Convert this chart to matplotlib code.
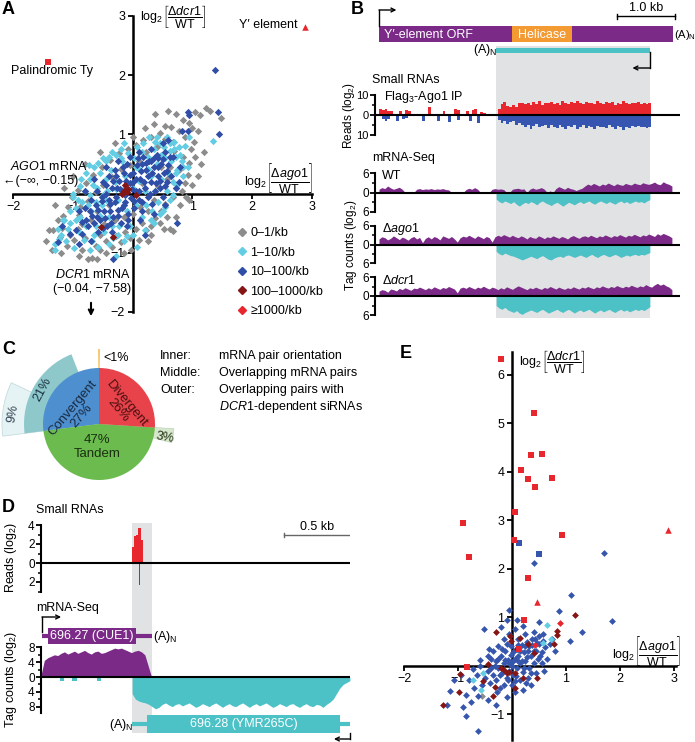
import numpy as np
import matplotlib
matplotlib.use('Agg')
import matplotlib.pyplot as plt
from matplotlib.patches import Rectangle, Wedge
from matplotlib.lines import Line2D

plt.rcParams['font.family'] = ['Liberation Sans', 'DejaVu Sans']
plt.rcParams['mathtext.fontset'] = 'custom'
plt.rcParams['mathtext.rm'] = 'Liberation Sans'
plt.rcParams['mathtext.it'] = 'Liberation Sans:italic'
plt.rcParams['mathtext.bf'] = 'Liberation Sans:bold'
plt.rcParams['font.size'] = 8.5

# colours
GRAY = '#8c8c8c'
CYAN = '#62cde3'
BLUE = '#2f4ea8'
DRED = '#861515'
RED = '#e8262d'
PURPLE = '#7b2a88'
TEAL = '#4cc1c6'
ORANGE = '#f39a32'
SHADE = '#e1e2e4'

# ---------------- data ----------------
# panel A: log2(dago1/WT), log2(ddcr1/WT) per mRNA, by siRNA density class
a_gray = [(-1.33,-0.62),(-1.22,-0.73),(-1.18,-0.58),(-1.10,-0.88),(-1.05,-0.70),(-0.98,-0.78),(-0.92,-0.60),
          (-0.85,-0.95),(-0.80,-0.75),(-0.75,-1.10),(-0.68,-1.08),(-0.62,-0.88),(-0.55,-0.70),(-0.45,-0.80),
          (-0.35,-0.90),(-0.28,-0.72),(-0.20,-0.82),(-0.12,-0.65),(-0.05,-0.75),(0.05,-0.60),(0.15,-0.50),
          (0.22,-0.62),(0.30,-0.55),(0.38,-0.42),(0.48,-0.30),(0.55,-0.18),(0.62,-0.60),(0.68,-0.05),
          (0.72,0.10),(0.82,0.05),(0.88,0.18),(1.00,0.15),(0.92,0.32),(0.78,0.40),(0.95,0.52),(1.05,0.62),
          (0.98,0.75),(1.02,0.88),(0.88,0.95),(0.78,1.05),(0.65,1.12),(0.72,1.35),(0.38,1.35),(0.35,1.17),
          (1.05,1.38),(1.22,1.45),(1.12,1.32),(1.30,1.40),(1.48,1.28),(0.55,0.92),(0.45,1.02),(0.30,0.95),
          (0.18,0.90),(0.05,0.82),(-0.08,0.75),(-0.22,0.68),(-0.38,0.56),(-0.52,0.45),(-0.66,0.32),
          (-0.78,0.18),(-0.92,0.06),(-1.02,-0.06),(-1.08,-0.22),(-1.16,-0.38),(-0.90,-0.36),(-0.84,-0.52),
          (-1.40,-0.62),(-1.25,-0.45),(-0.70,-0.45),(-0.60,-0.30),(-0.48,-0.52),(-0.40,-0.20),(-0.30,-0.45),
          (-0.15,-0.40),(0.00,-0.35),(0.12,-0.22),(0.25,-0.30),(0.35,-0.10),(0.42,0.12),(0.58,0.25),
          (0.62,0.45),(0.50,0.62),(0.40,0.78),(0.22,0.70),(0.10,0.55),(-0.05,0.48),(-0.20,0.42),(-0.35,0.28),
          (-0.50,0.15),(-0.62,0.02),(-0.75,-0.12),(-0.88,-0.22),(0.70,0.72),(0.85,0.62),(0.68,0.88),
          (0.48,0.45),(0.30,0.32),(0.15,0.18),(-0.55,-0.95),(-0.02,-0.95),(0.10,-0.78),(0.30,-0.70),
          (0.45,-0.50),(0.58,-0.40),(0.80,-0.20),(0.90,-0.05),(1.20,0.70),(1.10,1.05),(0.60,1.40),(0.95,1.20),
          (0.67,-0.63),(-1.45,-0.80),(-1.35,-0.95),(-1.20,-1.00),(-0.90,-1.05),(-0.60,-1.10),(-0.45,-1.00),
          (-0.15,-1.00),(0.25,-0.80),(0.52,-0.60),(0.72,-0.40),(0.95,-0.10),(1.10,0.30),(1.15,0.50),
          (1.00,1.10),(0.85,1.25),(0.55,1.15),(0.20,1.10),(0.00,0.95),(-0.30,0.85),(-0.55,0.70),
          (-0.80,0.50),(-1.00,0.30),(-1.15,0.10),(-1.30,-0.20)]
a_cyan = [(-1.30,-0.85),(-1.20,-0.70),(-1.15,-0.45),(-1.05,-0.30),(-1.00,-0.05),(-0.98,-0.92),(-0.90,-0.65),
          (-0.88,-0.40),(-0.85,-0.15),(-0.80,0.05),(-0.73,0.48),(-0.72,0.25),(-0.70,-0.30),(-0.68,-0.80),
          (-0.62,-0.55),(-0.60,0.10),(-0.58,-0.90),(-0.55,0.35),(-0.52,-0.20),(-0.48,-0.65),(-0.45,0.55),
          (-0.42,0.05),(-0.40,-0.40),(-0.36,0.40),(-0.32,-0.75),(-0.30,0.20),(-0.28,-1.06),(-0.28,0.66),
          (-0.25,-0.10),(-0.22,-0.55),(-0.18,0.55),(-0.15,0.85),(-0.12,0.30),(-0.10,-0.30),(-0.08,0.68),
          (-0.05,-0.55),(0.00,0.10),(0.02,0.60),(0.05,-0.20),(0.08,-0.91),(0.08,0.78),(0.12,0.40),
          (0.15,-0.40),(0.18,0.85),(0.20,0.05),(0.22,-0.20),(0.25,0.62),(0.28,0.95),(0.30,0.30),(0.32,-0.30),
          (0.35,0.75),(0.38,0.05),(0.40,0.50),(0.42,-0.15),(0.45,0.85),(0.48,0.25),(0.52,0.79),(0.55,0.60),
          (0.58,0.05),(0.60,0.35),(0.62,0.85),(0.65,0.55),(0.68,0.20),(0.72,0.62),(0.75,0.40),(0.78,0.78),
          (0.82,0.55),(0.88,0.80),(1.35,0.89),(0.95,0.95),(-1.17,-0.44),(-1.23,-0.76),(-1.00,0.00),
          (-0.95,-0.25),(-0.78,-0.55),(-0.65,0.45),(-0.50,0.60),(-0.35,0.70),(-0.20,0.75),(0.40,0.95),
          (0.58,0.95),(-0.15,-0.80),(-0.40,-0.85),(0.00,-0.70),(0.20,-0.62),(0.35,-0.50),(0.45,-0.35),
          (0.55,-0.22),(0.68,-0.02),(0.75,0.15),(0.85,0.30),(0.92,0.45),(-0.86,0.25),(-0.72,-0.02),
          (-0.55,-0.38),(-0.45,-0.10),(-0.28,0.08),(-0.12,0.10),(0.10,0.22),(0.25,0.42),(0.48,0.65),
          (0.70,0.88),(-0.65,-0.70),(-0.82,-0.78),(-1.08,-0.60),(-0.50,-0.02),
          (-1.12,-0.80),(-1.05,-0.50),(-0.95,-0.45),(-0.92,-0.10),(-0.88,0.12),(-0.78,0.35),(-0.75,-0.20),
          (-0.66,0.15),(-0.62,-0.15),(-0.58,0.52),(-0.45,0.25),(-0.40,0.62),(-0.35,-0.55),(-0.25,-0.70),
          (-0.20,0.60),(-0.10,-0.72),(0.05,0.45),(0.15,0.70),(0.30,-0.45),(0.38,0.88),(0.50,-0.30),
          (0.62,-0.10),(0.70,0.75),(0.80,0.65),(0.85,0.45),(0.72,0.35),(0.62,0.72),(-1.25,-0.60),
          (-1.30,-0.95),(-0.72,-0.95)]
a_blue = [(-0.95,-0.62),(-0.85,-0.48),(-0.80,-0.25),(-0.75,-0.55),(-0.70,-0.10),(-0.68,-0.38),(-0.62,-0.20),
          (-0.60,0.05),(-0.55,-0.45),(-0.52,-0.12),(-0.50,0.20),(-0.48,-0.30),(-0.45,0.00),(-0.42,-0.55),
          (-0.40,0.30),(-0.38,-0.18),(-0.35,0.10),(-0.32,-0.40),(-0.30,0.40),(-0.28,-0.05),(-0.25,-0.28),
          (-0.22,0.22),(-0.20,-0.50),(-0.18,0.05),(-0.15,0.35),(-0.12,-0.15),(-0.10,0.50),(-0.08,-0.35),
          (-0.05,0.18),(-0.02,-0.08),(0.00,0.35),(0.02,-0.25),(0.05,0.05),(0.08,0.48),(0.10,-0.10),
          (0.12,0.25),(0.15,-0.30),(0.18,0.62),(0.20,0.10),(0.22,0.40),(0.25,-0.05),(0.28,0.55),(0.30,0.20),
          (0.32,-0.18),(0.35,0.45),(0.38,0.05),(0.40,0.65),(0.42,0.30),(0.45,0.10),(0.48,0.50),(0.50,-0.05),
          (0.52,0.35),(0.55,0.70),(0.58,0.20),(0.60,0.48),(0.65,0.30),(0.68,0.62),(0.72,0.10),(-1.18,-0.54),
          (-1.05,-0.68),(-1.25,-0.82),(1.38,2.09),(1.42,1.38),(1.44,1.01),(0.92,1.38),(0.95,1.33),
          (0.83,1.05),(0.93,1.05),(0.75,-0.50),(-0.32,-1.10),(0.60,0.90),(0.50,0.85),(0.30,0.75),(0.10,0.70),
          (-0.05,0.62),(-0.25,0.55),(-0.45,0.45),(-0.65,0.25),(-0.80,0.05),(-0.90,-0.30),(-0.58,-0.65),
          (-0.35,-0.65),(-0.10,-0.55),(0.12,-0.45),(0.35,-0.35),(0.55,-0.20),(-0.70,-0.80),(0.20,-0.70),
          (-0.90,-0.85),(0.80,0.45),(0.78,0.20),
          (-0.65,-0.50),(-0.58,-0.28),(-0.52,-0.05),(-0.46,-0.42),(-0.44,0.15),(-0.40,-0.10),(-0.36,-0.50),
          (-0.33,0.22),(-0.30,-0.15),(-0.27,0.30),(-0.24,-0.38),(-0.21,0.08),(-0.18,-0.25),(-0.16,0.45),
          (-0.13,-0.02),(-0.11,0.22),(-0.07,-0.45),(-0.04,0.32),(-0.01,0.08),(0.03,-0.12),(0.06,0.25),
          (0.09,0.60),(0.11,0.05),(0.14,0.38),(0.16,-0.15),(0.19,0.20),(0.23,0.52),(0.26,0.30),(0.29,0.00),
          (0.33,0.35),(0.36,0.60),(0.39,0.18),(0.43,0.45),(0.46,0.22),(0.51,0.58),(0.54,0.12),(0.57,0.38),
          (0.62,0.62),(-0.72,-0.30),(-0.78,-0.45),(-0.85,-0.68),(-0.60,-0.40),(-0.50,-0.58),(-0.38,-0.30),
          (-0.26,0.10),(-0.14,-0.20),(0.00,0.20),(0.16,0.50),(0.30,0.55),(0.42,0.60)]
a_dred = [(-0.13,0.15),(-0.15,0.05),(-0.10,0.02),(-0.08,0.08),(0.05,-0.02),(-0.53,-0.56),(-0.33,-0.74),
          (-0.18,0.00)]
a_ty = (-1.42, 2.23)
a_yprime = (2.88, 2.82)
a_legend = ['0\u20131/kb', '1\u201310/kb', '10\u2013100/kb', '100\u20131000/kb', '\u22651000/kb']

# panel B: Y' element locus (kb)
b_gene_len = 5.07
b_helicase = (2.29, 3.33)
b_antisense = (2.02, 4.67)
b_bin = 0.05
b_srna_red = [3.0,2.5,3.0,2.0,2.2,0,0,2.0,0,2.5, 2.0,0,0,0,0,0,0,4.0,0,0, 0,0,2.0,0,0,0,3.0,2.5,0,0,
              2.0,0,2.5,3.0,0,1.5,1.0,0,0,0, 0,
              3.0,5.5,6.5,4.5,3.8,5.2,4.2,5.8,6.0,5.4, 6.2,5.0,6.4,5.6,6.8,5.2,6.0,5.8,6.6,5.4,
              6.2,5.0,6.8,6.0,5.6,6.4,5.8,7.0,6.2,5.4, 6.6,5.8,6.2,5.4,6.8,6.0,5.6,6.4,5.8,6.6,
              5.2,6.2,5.6,6.8,6.0,5.4,6.2,5.8,6.4,5.6, 6.0,5.4,5.8]
b_srna_blue = [0,2.0,3.0,2.0,0,0,3.0,0,2.0,1.5, 0,0,0,0,0,3.0,0,0,0,0, 3.0,0,0,0,3.5,0,0,2.5,0,0,
               0,3.0,0,0,4.0,0,0,0,0,0, 0,
               2.5,4.0,3.2,4.5,3.6,3.0,4.8,3.8,5.2,6.2, 5.0,6.8,5.4,4.6,6.0,5.6,4.8,6.4,5.2,5.8,
               6.6,5.0,6.2,7.2,5.4,6.0,5.2,6.8,5.8,5.0, 6.4,5.6,6.0,7.0,5.4,6.2,5.8,6.6,5.2,6.0,
               6.8,5.6,6.2,7.4,5.8,6.4,5.4,6.0,5.6,6.2, 5.8,6.6,6.0]
b_wt_sense = [1.0,1.5,1.2,2.0,1.4,1.0,1.3,1.6,1.0, 0,0,0,0,
              1.0,1.2,0.9,1.1,1.0,1.2,0.9,1.1,1.0,1.2,0.9,0.8, 0,0,0,0,0,
              0.9,1.3,1.0,1.5,1.0, 0,0,0,0, 1.0,1.2,1.0,1.1,0.9, 0,0, 1.0,1.2,1.3,1.0,1.1, 0,
              1.0,1.4,1.0,1.2,1.5,1.0, 0,0.5,0, 1.2,1.8,1.4,1.0,1.6,1.2,1.0, 0.6,1.0,1.3,
              2.0,2.6,2.2,2.8,2.4,2.0,2.6,2.3,2.9,2.5,2.1,2.7,2.4,2.2,2.8,2.5,2.3,2.9,2.6,2.4,
              3.0,2.7,2.5,2.8,3.2,2.6,2.4,3.3,2.8,2.5,2.0]
b_ago1_sense = [1.8,2.5,2.2,1.5,2.0,2.8,2.2,1.6,2.4,2.0, 1.4,2.2,2.6,1.8,2.3,0.6,2.0,2.5,1.8,2.6,
                2.2,1.5,2.8,2.4,2.0,2.6,1.8,0.8,2.2,2.7, 2.4,3.0,2.5,2.0,2.8,2.4,1.9,2.6,2.2,0.8,
                2.5,3.0,2.6,3.2,2.8,2.4,3.0,2.5,2.2,2.8, 2.4,1.8,2.6,2.2,2.0,2.8,2.4,1.9,2.5,2.2,
                2.8,2.4,2.0,2.6,2.3,1.8,2.5,2.9,2.4,2.0, 2.6,2.8,2.4,3.0,2.6,2.2,2.8,2.5,3.1,2.7,
                2.3,2.9,2.6,3.2,2.8,2.4,3.0,2.7,3.3,2.9, 2.5,3.1,2.8,3.4,3.0,2.6,3.5,3.0,3.6,3.2, 2.8,2.2]
b_dcr1_sense = [1.5,2.0,1.8,1.2,2.2,2.0,1.6,2.4,2.0,2.6, 2.2,1.8,2.5,2.3,2.8,2.4,2.0,2.6,2.2,2.9,
                2.5,2.1,2.7,2.4,3.0,2.6,2.2,1.0,2.5,2.8, 2.4,3.0,2.6,2.2,2.8,2.5,3.1,2.6,2.2,2.8,
                2.5,2.0,2.6,2.2,2.9,2.5,2.1,2.7,3.2,2.8, 2.4,2.0,2.6,2.3,2.8,2.4,2.1,2.7,2.4,3.0,
                2.6,2.2,2.8,2.4,2.1,2.6,2.3,2.9,2.5,2.2, 2.8,2.5,3.0,2.6,2.3,2.9,2.6,3.2,2.8,2.5,
                3.0,2.7,3.3,2.9,2.6,3.1,2.8,3.4,3.0,2.7, 3.2,2.9,3.6,3.1,2.8,3.5,4.0,3.4,3.8,3.2, 2.8,2.0]
b_wt_anti = [2.0,2.8,3.2,2.6,3.0,3.4,2.8,3.6,4.2,3.5, 3.0,3.4,2.8,3.2,3.8,3.0,2.6,3.2,3.6,4.0,
             3.4,3.0,3.6,4.2,3.6,3.0,3.4,3.8,3.2,2.8, 3.4,3.0,2.6,3.2,3.6,3.0,2.6,3.0,3.4,2.8,
             3.2,3.6,3.0,2.6,3.2,2.8,3.4,3.0,2.6,3.0, 2.8,3.2,2.6,2.2]
b_ago1_anti = [2.2,3.0,3.4,2.8,3.2,3.6,3.8,4.2,4.6,5.0, 4.6,4.2,3.8,4.2,4.6,4.0,3.6,4.2,4.8,5.0,
               4.4,4.0,3.8,4.2,3.6,3.4,3.8,4.2,3.8,3.4, 3.8,4.2,3.6,3.2,3.8,4.2,3.6,3.2,3.6,4.0,
               3.6,3.2,3.6,4.2,3.8,3.4,3.8,3.4,3.2,3.6, 3.2,3.4,3.0,2.6]
b_dcr1_anti = [3.0,3.8,4.2,3.6,4.4,4.8,5.2,4.6,5.4,5.8, 5.2,4.8,4.4,4.8,5.2,4.6,4.2,4.8,5.4,5.0,
               4.6,4.2,4.8,5.2,4.6,4.2,4.8,5.4,4.8,4.4, 5.0,4.6,4.2,4.8,5.4,4.8,4.4,5.0,4.6,4.2,
               4.8,5.2,4.6,4.2,4.8,4.4,5.0,4.6,4.2,4.6, 4.2,4.6,4.0,3.4]

# panel C: percentages
c_inner = {'Convergent': 27, 'Tandem': 47, 'Divergent': 26}
c_middle = {'Convergent': 21, 'Divergent': 0.3, 'Tandem': 3}
c_outer = {'Convergent': 9}

# panel D: CUE1 / YMR265C locus (kb)
d_cue1 = (0.05, 0.71, 0.83)        # box start, box end, 3' end
d_ymr = (0.68, 0.79, 2.23)         # 3' end, box start, box end
d_overlap = (0.68, 0.83)
d_reads_x = [0.69, 0.705, 0.72, 0.735, 0.75]
d_reads_red = [1.7, 2.8, 3.0, 3.7, 2.4]
d_reads_blue_x = [0.735]
d_reads_blue = [2.3]
d_bin = 0.025
d_sense = [0.5,4.5,5.2,5.6,6.0,5.8,6.4,6.8,6.2,6.6,7.0,6.4,6.8,7.2,6.6,6.2,6.8,7.0,6.4,6.6,
           7.0,7.4,7.8,7.6,7.8,7.4,7.0,6.6,7.0,7.2,6.8,6.0,3.0,0.0]
d_anti = [4.5,6.0,6.5,6.8,7.0,7.4,8.0,8.6,8.2,7.4,7.0,7.6,8.0,7.4,7.2,7.8,7.4,7.0,7.6,8.2,
          7.8,7.2,7.6,8.0,7.4,7.0,7.6,8.2,7.6,7.2,7.8,8.0,7.4,7.0,7.6,8.2,7.6,7.2,7.8,7.4,
          7.0,7.6,8.2,7.8,7.2,7.6,8.0,7.4,7.2,7.8,8.2,7.6,7.2,7.8,8.0,7.4,7.6,8.2,7.4,6.8,
          6.0,4.5,3.0,2.0,1.5,1.0]
d_anti_blips_x = [0.16, 0.25, 0.43]
d_anti_blips = [1.2, 1.2, 1.2]

# panel E: mRNAs overlapping DCR1-dependent siRNA clusters
e_red_sq = [(-0.90,2.94),(-0.79,2.24),(0.06,3.17),(0.04,2.60),(0.16,4.03),(0.29,3.85),(0.36,4.35),
            (0.41,5.21),(0.43,3.68),(0.56,4.37),(0.75,3.87),(0.92,2.70),(0.30,1.80),(-0.21,6.32),
            (0.22,0.95),(-0.83,-0.03),(0.13,0.35)]
e_red_tri = [(2.90,2.80),(0.46,1.31)]
e_red_dia = [(0.89,0.88),(0.42,0.43)]
e_blue_sq = [(0.14,2.53),(0.50,2.30)]
e_blue = [(1.71,2.32),(0.40,2.11),(1.10,1.45),(1.85,0.93),(1.29,0.69),(1.07,0.52),(0.88,1.13),(0.50,0.90),
          (-0.06,1.15),(-0.51,0.76),(-0.43,0.34),(-0.59,0.12),(-0.72,-0.06),(-1.07,-0.30),(-1.15,-0.52),
          (-1.21,-0.80),(-0.85,-1.04),(-0.62,-1.34),(-0.30,0.10),(-0.25,-0.05),(-0.20,0.20),(-0.18,-0.15),
          (-0.15,0.05),(-0.12,0.30),(-0.10,-0.25),(-0.08,0.12),(-0.05,-0.10),(-0.02,0.22),(0.00,0.00),
          (0.02,-0.18),(0.05,0.15),(0.08,0.35),(0.10,-0.05),(0.12,0.20),(0.15,0.05),(0.18,0.42),
          (0.20,-0.12),(0.22,0.28),(0.25,0.10),(0.28,0.50),(0.30,0.30),(0.32,-0.05),(0.35,0.20),
          (0.38,0.42),(0.40,0.05),(0.42,0.55),(0.45,0.30),(0.48,0.15),(0.50,0.45),(0.55,0.28),(0.58,0.52),
          (0.62,0.38),(0.70,0.45),(0.75,0.55),(0.80,0.30),(-0.35,-0.20),(-0.40,-0.35),(-0.30,-0.30),
          (-0.22,-0.45),(-0.45,-0.10),(-0.50,-0.25),(-0.55,-0.40),(-0.60,0.00),(-0.65,-0.20),(-0.35,0.30),
          (-0.25,0.40),(-0.15,0.55),(-0.05,0.65),(0.05,0.75),(0.12,0.55),(-0.38,0.15),(-0.28,-0.55),
          (-0.15,-0.40),(0.00,-0.40),(0.15,-0.30),(0.30,-0.25),(0.45,-0.15),(0.35,-0.40),(-0.70,-0.45),
          (-0.80,-0.30),(-0.85,-0.60),(-0.75,-0.75),(-0.62,-0.62),(-0.45,-0.70),(-0.30,-0.80),
          (-0.10,-0.65),(0.05,-0.55),(0.20,-0.50),(-0.95,-0.20),(-0.90,-0.85),(0.65,0.15),(0.55,0.05),
          (0.60,-0.10),(0.25,0.65),(0.40,0.70),(0.50,0.62),(-0.20,0.80),(0.10,0.95),(-0.10,0.95),(0.20,0.82),
          (-0.25,0.15),(-0.22,-0.20),(-0.12,0.12),(-0.08,-0.30),(-0.02,0.40),(0.02,0.10),(0.08,-0.22),
          (0.12,0.42),(0.18,0.10),(0.22,-0.05),(0.28,0.18),(0.32,0.40),(0.36,-0.15),(0.40,0.30),(0.46,0.48),
          (0.52,0.20),(-0.32,0.00),(-0.38,-0.05),(-0.45,0.20),(-0.18,0.35),(0.06,-0.32),(0.26,-0.35),
          (0.15,0.30),(-0.05,0.05),(0.10,0.12),(0.02,0.28),(0.24,0.40),(0.38,0.55),(0.58,0.65),(-0.10,0.45)]
e_dred = [(-0.30,0.69),(-0.04,0.61),(-0.01,0.52),(0.15,0.57),(0.40,0.26),(0.83,0.71),(0.84,0.64),(1.17,1.05),
          (-0.44,0.04),(-0.96,-0.17),(-0.99,-0.53),(-1.27,-0.80),(-0.53,-0.32),(-0.31,-0.43),(0.06,-0.45),
          (0.46,-0.26),(-0.10,-0.15),(-0.35,-0.63),(-0.20,-0.05),(-0.15,-0.08),(-0.05,-0.12),(0.05,-0.15),
          (0.10,0.35),(0.30,0.45),(0.78,0.45),(0.20,-0.25)]
e_cyan = [(0.65,0.84),(0.58,0.47),(-0.53,-0.15),(-0.72,-0.29),(-0.58,-0.50),(0.72,0.55)]
e_gray = [(-0.56,-0.62)]

# ---------------- figure ----------------
W, H = 695, 742
fig = plt.figure(figsize=(W / 100, H / 100), dpi=100)


def px_axes(l, t, r, b):
    return fig.add_axes([l / W, 1 - b / H, (r - l) / W, (b - t) / H])


def ftext(x, y, s, **kw):
    kw.setdefault('va', 'center')
    fig.text(x / W, 1 - y / H, s, **kw)


def farrow(x0, y0, x1, y1, lw=1.2):
    fig.add_artist(matplotlib.patches.FancyArrowPatch(
        (x0 / W, 1 - y0 / H), (x1 / W, 1 - y1 / H), transform=fig.transFigure,
        arrowstyle='->', mutation_scale=8, lw=lw, color='k'))


def cross_axes(ax, xt, yt):
    for s in ['top', 'right']:
        ax.spines[s].set_visible(False)
    for s in ['left', 'bottom']:
        ax.spines[s].set_position(('data', 0))
        ax.spines[s].set_linewidth(1.8)
    ax.set_xticks(xt)
    ax.set_yticks(yt)
    ax.set_xticklabels([f'{v:g}'.replace('-', '\u2212') for v in xt])
    ax.set_yticklabels([f'{v:g}'.replace('-', '\u2212') for v in yt])
    ax.tick_params(width=1.3, length=3.5, labelsize=9, pad=2)
    ax.set_facecolor('none')


def scat(ax, pts, color, marker='D', s=13, z=3):
    x, y = zip(*pts)
    ax.scatter(x, y, marker=marker, s=s, color=color, lw=0, zorder=z, clip_on=False)


# ---- panel A ----
axA = px_axes(13, 16, 312, 312)
axA.set_xlim(-2, 3)
axA.set_ylim(-2, 3)
cross_axes(axA, [-2, -1, 1, 2, 3], [-2, -1, 1, 2, 3])
scat(axA, a_gray, GRAY, s=14)
scat(axA, a_cyan, CYAN, s=14, z=4)
scat(axA, a_blue, BLUE, s=14, z=5)
scat(axA, a_dred, DRED, s=14, z=6)
axA.scatter(*a_ty, marker='s', s=18, color=RED, lw=0)
axA.scatter(*a_yprime, marker='^', s=22, color=RED, lw=0)
ftext(52, 71, 'Palindromic Ty', ha='center', fontsize=9)
ftext(298, 25, 'Y\u2032 element', ha='right', fontsize=9)
ftext(140, 3, r'$\log_2\!\left[\dfrac{\Delta\mathit{dcr1}}{\mathrm{WT}}\right]$', va='top', fontsize=9)
ftext(313, 178, r'$\log_2\!\left[\dfrac{\Delta\mathit{ago1}}{\mathrm{WT}}\right]$', ha='right', fontsize=9)
ftext(10, 166, r'$\mathit{AGO1}$ mRNA', fontsize=9)
ftext(3, 181, '\u2190(\u2212\u221e, \u22120.15)', fontsize=9)
ftext(55, 275, r'$\mathit{DCR1}$ mRNA', fontsize=9)
ftext(53, 289, '(\u22120.04, \u22127.58)', fontsize=9)
farrow(91, 300, 91, 319, lw=1.5)
handles = [Line2D([0], [0], marker='D', ls='', color=c, markersize=4, label=l)
           for c, l in zip([GRAY, CYAN, BLUE, DRED, RED], a_legend)]
fig.legend(handles=handles, loc='upper left', bbox_to_anchor=(228 / W, 1 - 221 / H), frameon=False,
           fontsize=9, handletextpad=0.1, labelspacing=0.6, borderpad=0, handlelength=1.2)
ftext(2, 10, 'A', fontsize=13, fontweight='bold')

# ---- panel B ----
B_X0, B_X1 = -4 / 58, 301 / 58
axBo = px_axes(375, 0, 680, 330)
axBo.set_xlim(B_X0, B_X1)
axBo.set_ylim(330, 0)
axBo.axis('off')
axBo.add_patch(Rectangle((b_antisense[0], 46), b_antisense[1] - b_antisense[0], 272, color=SHADE, lw=0, zorder=0))
axBo.add_patch(Rectangle((0, 26), b_gene_len, 16, color=PURPLE, lw=0))
axBo.add_patch(Rectangle((b_helicase[0], 26), b_helicase[1] - b_helicase[0], 16, color=ORANGE, lw=0))
axBo.text(0.08, 34.5, 'Y\u2032-element ORF', color='white', va='center', fontsize=9)
axBo.text(sum(b_helicase) / 2, 34.5, 'Helicase', color='white', va='center', ha='center', fontsize=9)
axBo.text(b_gene_len + 0.01, 35, '(A)$_\\mathrm{N}$', va='center', fontsize=8)
axBo.plot([0, 0], [26, 10], color='k', lw=1)
axBo.annotate('', xy=(0.3, 10), xytext=(0, 10),
              arrowprops=dict(arrowstyle='->', lw=1, color='k', shrinkA=0, shrinkB=0, mutation_scale=7))
axBo.plot([4.1, 5.1], [16, 16], color='k', lw=1)
axBo.plot([4.1, 4.1], [13.5, 18.5], color='k', lw=1)
axBo.plot([5.1, 5.1], [13.5, 18.5], color='k', lw=1)
axBo.text(4.6, 8, '1.0 kb', ha='center', va='center', fontsize=9)
axBo.add_patch(Rectangle((b_antisense[0], 47.5), b_antisense[1] - b_antisense[0], 5, color=TEAL, lw=0))
axBo.text(b_antisense[0] + 0.03, 50, '(A)$_\\mathrm{N}$', ha='right', va='center', fontsize=9)
axBo.plot([b_antisense[1], b_antisense[1]], [52, 68], color='k', lw=1)
axBo.annotate('', xy=(b_antisense[1] - 0.3, 68), xytext=(b_antisense[1], 68),
              arrowprops=dict(arrowstyle='->', lw=1, color='k', shrinkA=0, shrinkB=0, mutation_scale=7))


def track_axes(l, t, r, b, x0, x1, ylo, yhi, major, minor, labels, lsize=8.5):
    ax = px_axes(l, t, r, b)
    ax.set_facecolor('none')
    ax.set_xlim(x0, x1)
    ax.set_ylim(ylo, yhi)
    for s in ['top', 'right', 'bottom']:
        ax.spines[s].set_visible(False)
    ax.spines['left'].set_linewidth(1.5)
    ax.set_xticks([])
    ax.set_yticks(major)
    ax.set_yticklabels(labels)
    ax.set_yticks(minor, minor=True)
    ax.tick_params(which='major', width=1.3, length=3.5, pad=1, labelsize=lsize)
    ax.tick_params(which='minor', width=1.1, length=2)
    ax.axhline(0, color='k', lw=1.5, zorder=5)
    return ax


axBs = track_axes(375, 95, 680, 135, B_X0, B_X1, -10, 10, [-10, 0, 10], [-5, 5], ['10', '0', '10'], lsize=8)
sx = np.arange(len(b_srna_red)) * b_bin + 0.02
axBs.bar(sx, b_srna_red, width=b_bin, color=RED, lw=0)
axBs.bar(sx, -np.array(b_srna_blue), width=b_bin, color='#3555b0', lw=0)

sense_x = np.arange(len(b_wt_sense)) * b_bin
anti_x = np.linspace(b_antisense[0], b_antisense[1], len(b_wt_anti))
for (t, b), sense, anti in [((173, 212), b_wt_sense, b_wt_anti),
                            ((226, 263), b_ago1_sense, b_ago1_anti),
                            ((277, 315), b_dcr1_sense, b_dcr1_anti)]:
    ax = track_axes(375, t, 680, b, B_X0, B_X1, -6, 6, [-6, 0, 6], [-3, 3], ['6', '0', '6'])
    ax.fill_between(sense_x, 0, sense, color=PURPLE, lw=0)
    ax.fill_between(anti_x, 0, -np.array(anti), color=TEAL, lw=0)

ftext(372, 80, 'Small RNAs', fontsize=9)
ftext(384, 97, 'Flag$_3$-Ago1 IP', fontsize=9)
ftext(372, 158, 'mRNA-Seq', fontsize=9)
ftext(382, 176, 'WT', fontsize=9)
ftext(382, 229, r'$\Delta\mathit{ago1}$', fontsize=9)
ftext(382, 280, r'$\Delta\mathit{dcr1}$', fontsize=9)
ftext(349, 115, 'Reads (log$_2$)', rotation=90, ha='center', fontsize=8.5)
ftext(351, 245, 'Tag counts (log$_2$)', rotation=90, ha='center', fontsize=8.5)
ftext(351, 10, 'B', fontsize=13, fontweight='bold')

# ---- panel C ----
axC = px_axes(0, 324, 200, 524)
axC.set_xlim(-99, 101)
axC.set_ylim(-100, 100)
axC.axis('off')
R_IN, R_MID, R_OUT = 56, 75, 97
deg = 3.6
conv0 = 90
conv1 = conv0 + c_inner['Convergent'] * deg
tand1 = conv1 + c_inner['Tandem'] * deg
div1 = tand1 + c_inner['Divergent'] * deg
axC.add_patch(Wedge((0, 0), R_OUT, conv1 - c_outer['Convergent'] * deg, conv1,
                    facecolor='#e6f3f4', edgecolor='#c3dcde', lw=0.6))
axC.add_patch(Wedge((0, 0), R_MID, conv1 - c_middle['Convergent'] * deg, conv1, facecolor='#8ec8cb', lw=0))
axC.add_patch(Wedge((0, 0), R_MID, tand1 - c_middle['Tandem'] * deg, tand1,
                    facecolor='#d6e7ce', edgecolor='#c0d6b8', lw=0.5))
axC.add_patch(Wedge((0, 0), R_MID, 90 - c_middle['Divergent'] * deg / 2, 90 + c_middle['Divergent'] * deg / 2,
                    facecolor='#f2b132', lw=0))
axC.add_patch(Wedge((0, 0), R_IN, conv0, conv1, facecolor='#4d8fcf', lw=0))
axC.add_patch(Wedge((0, 0), R_IN, conv1, tand1, facecolor='#6cbb4f', lw=0))
axC.add_patch(Wedge((0, 0), R_IN, tand1, div1, facecolor='#e8434b', lw=0))
tc = '#1a2a40'
axC.text(-22, 12, 'Convergent\n27%', rotation=50, ha='center', va='center', fontsize=9.5,
         color=tc, linespacing=0.9, rotation_mode='anchor')
axC.text(23, 17, 'Divergent\n26%', rotation=-50, ha='center', va='center', fontsize=9.5,
         color='#4a1010', linespacing=0.9, rotation_mode='anchor')
axC.text(-2, -23, '47%\nTandem', ha='center', va='center', fontsize=9.5, color='#1a3010', linespacing=1.2)
axC.text(-56, 35, '21%', rotation=62, ha='center', va='center', fontsize=9, color='#1a3040')
axC.text(-86, 11, '9%', rotation=80, ha='center', va='center', fontsize=9, color='#304050')
axC.text(66, -14, '3%', rotation=-10, ha='center', va='center', fontsize=9, color='#203010')
axC.text(4, 66, '<1%', ha='left', va='center', fontsize=9)
ftext(160, 356, 'Inner:', fontsize=9)
ftext(160, 373, 'Middle:', fontsize=9)
ftext(160, 390, 'Outer:', fontsize=9)
ftext(219, 356, 'mRNA pair orientation', fontsize=9)
ftext(219, 373, 'Overlapping mRNA pairs', fontsize=9)
ftext(219, 390, 'Overlapping pairs with', fontsize=9)
ftext(219, 407, r'$\mathit{DCR1}$-dependent siRNAs', fontsize=9)
ftext(2, 350, 'C', fontsize=13, fontweight='bold')

# ---- panel D ----
D_X0, D_X1 = 0, 309 / 134
axDo = px_axes(41, 500, 350, 742)
axDo.set_xlim(D_X0, D_X1)
axDo.set_ylim(742, 500)
axDo.axis('off')
axDo.add_patch(Rectangle((d_overlap[0], 523), d_overlap[1] - d_overlap[0], 210, color=SHADE, lw=0, zorder=0))
axDo.plot([1.81, D_X1], [535, 535], color='#666666', lw=1)
axDo.plot([1.81, 1.81], [533, 537], color='#666666', lw=1)
axDo.text((1.81 + D_X1) / 2, 527, '0.5 kb', ha='center', va='center', fontsize=9)
# CUE1 gene
axDo.plot([0.0075, d_cue1[2]], [636, 636], color=PURPLE, lw=3, solid_capstyle='butt')
axDo.add_patch(Rectangle((d_cue1[0], 628), d_cue1[1] - d_cue1[0], 16, color=PURPLE, lw=0))
axDo.text(sum(d_cue1[:2]) / 2, 636, '696.27 (CUE1)', color='white', ha='center', va='center', fontsize=9)
axDo.text(d_cue1[2] + 0.005, 637, '(A)$_\\mathrm{N}$', va='center', fontsize=9)
axDo.plot([0.0075, 0.0075], [632, 617], color='k', lw=1)
axDo.annotate('', xy=(0.15, 617), xytext=(0.0075, 617),
              arrowprops=dict(arrowstyle='->', lw=1, color='k', shrinkA=0, shrinkB=0, mutation_scale=7))
# YMR265C gene
axDo.plot([d_ymr[0], D_X1], [724, 724], color=TEAL, lw=3, solid_capstyle='butt')
axDo.add_patch(Rectangle((d_ymr[1], 715), d_ymr[2] - d_ymr[1], 18, color=TEAL, lw=0))
axDo.text(sum(d_ymr[1:]) / 2, 724, '696.28 (YMR265C)', color='white', ha='center', va='center', fontsize=9)
axDo.text(d_ymr[0] + 0.01, 725, '(A)$_\\mathrm{N}$', ha='right', va='center', fontsize=9)
axDo.plot([D_X1 - 0.003, D_X1 - 0.003], [733, 739], color='k', lw=1, clip_on=False)
axDo.annotate('', xy=(D_X1 - 0.12, 739), xytext=(D_X1 - 0.003, 739),
              arrowprops=dict(arrowstyle='->', lw=1, color='k', shrinkA=0, shrinkB=0, mutation_scale=7))

axDr = track_axes(41, 525, 350, 591.5, D_X0, D_X1, -3, 4, [-2, 0, 2, 4], [-3, -1, 1, 3], ['2', '0', '2', '4'])
axDr.bar(d_reads_x, d_reads_red, width=0.016, color=RED, lw=0)
axDr.bar(d_reads_blue_x, -np.array(d_reads_blue), width=0.012, color='#3555b0', lw=0)
axDt = track_axes(41, 647.4, 350, 712.9, D_X0, D_X1, -9.7, 8, [-8, -4, 0, 4, 8], [-6, -2, 2, 6],
                  ['8', '4', '0', '4', '8'])
dsx = np.arange(len(d_sense)) * d_bin + 0.0
dax = np.arange(len(d_anti)) * d_bin + d_overlap[0]
axDt.fill_between(dsx, 0, d_sense, color=PURPLE, lw=0)
axDt.fill_between(dax, 0, -np.array(d_anti), color=TEAL, lw=0)
axDt.bar(d_anti_blips_x, -np.array(d_anti_blips), width=0.03, color=TEAL, lw=0)
ftext(36, 510, 'Small RNAs', fontsize=9)
ftext(36, 608, 'mRNA-Seq', fontsize=9)
ftext(11, 557, 'Reads (log$_2$)', rotation=90, ha='center', fontsize=9)
ftext(11, 680, 'Tag counts (log$_2$)', rotation=90, ha='center', fontsize=9)
ftext(2, 508, 'D', fontsize=13, fontweight='bold')

# ---- panel E ----
axE = px_axes(404, 352, 676, 740)
axE.set_xlim(-2, 3.04)
axE.set_ylim(-1.53, 6.47)
cross_axes(axE, [-2, -1, 1, 2, 3], [-1, 1, 2, 3, 4, 5, 6])
scat(axE, e_gray, GRAY, s=12)
scat(axE, e_blue, '#3656ad', s=12, z=3)
scat(axE, e_cyan, CYAN, s=12, z=4)
scat(axE, e_dred, DRED, s=12, z=4)
scat(axE, e_red_dia, RED, s=12, z=5)
scat(axE, e_blue_sq, '#3656ad', marker='s', s=16, z=5)
scat(axE, e_red_sq, RED, marker='s', s=16, z=6)
scat(axE, e_red_tri, RED, marker='^', s=22, z=6)
ftext(519, 348, r'$\log_2\!\left[\dfrac{\Delta\mathit{dcr1}}{\mathrm{WT}}\right]$', va='top', fontsize=9)
ftext(681, 651, r'$\log_2\!\left[\dfrac{\Delta\mathit{ago1}}{\mathrm{WT}}\right]$', ha='right', fontsize=9)
ftext(400, 354, 'E', fontsize=13, fontweight='bold')

fig.savefig('out.png', dpi=100)
